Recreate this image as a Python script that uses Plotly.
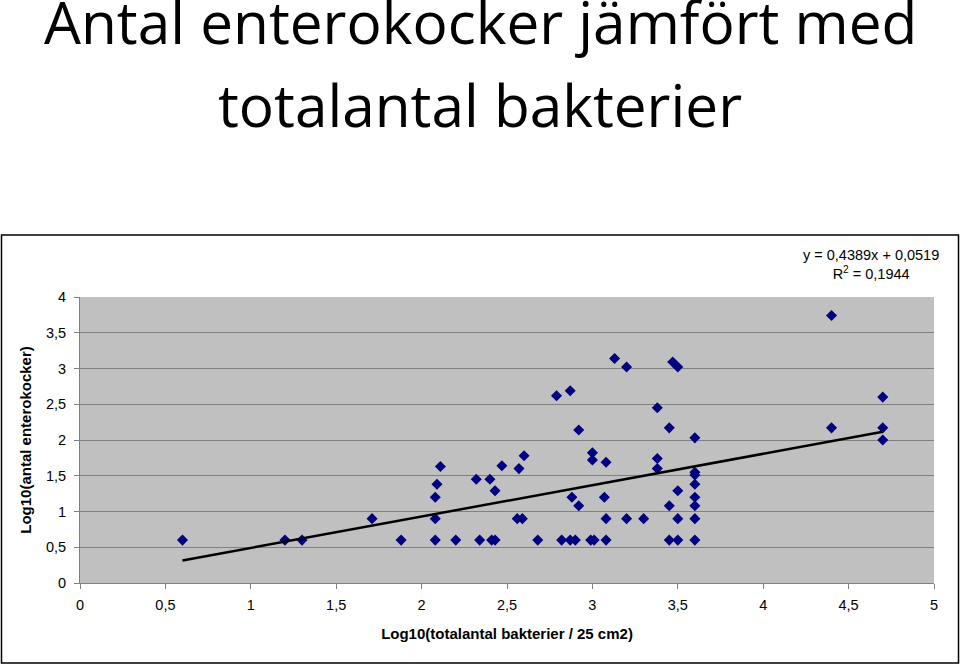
import plotly.graph_objects as go

# Data (log10 values)
x_total = [0.60, 1.20, 1.30, 1.71, 1.88, 2.08, 2.08, 2.08, 2.09, 2.11,
           2.20, 2.32, 2.34, 2.40, 2.41, 2.43, 2.43, 2.47, 2.56, 2.59,
           2.57, 2.60, 2.68, 2.79, 2.82, 2.87, 2.87, 2.90, 2.88, 2.92,
           2.92, 2.99, 3.01, 3.00, 3.00, 3.08, 3.08, 3.07, 3.08, 3.13,
           3.20, 3.20, 3.30, 3.38, 3.38, 3.38, 3.45, 3.45, 3.45, 3.47,
           3.50, 3.50, 3.50, 3.50, 3.60, 3.60, 3.60, 3.60, 3.60, 3.60,
           3.60, 3.60, 4.40, 4.40, 4.70, 4.70, 4.70]
y_entero = [0.60, 0.60, 0.60, 0.90, 0.60, 0.60, 0.90, 1.20, 1.38, 1.63,
            0.60, 1.45, 0.60, 1.45, 0.60, 0.60, 1.29, 1.64, 0.90, 0.90,
            1.60, 1.78, 0.60, 2.62, 0.60, 2.69, 0.60, 0.60, 1.20, 1.08,
            2.14, 0.60, 0.60, 1.82, 1.72, 0.60, 0.90, 1.20, 1.69, 3.14,
            3.02, 0.90, 0.90, 2.45, 1.74, 1.60, 0.60, 1.08, 2.17, 3.09,
            3.02, 1.29, 0.90, 0.60, 0.60, 0.90, 1.08, 1.20, 1.38, 1.51,
            1.55, 2.03, 3.74, 2.17, 2.60, 2.17, 2.00]

# Linear trendline as given in the chart
slope = 0.4389
intercept = 0.0519
r_squared = 0.1944

x_ticks = [0, 0.5, 1, 1.5, 2, 2.5, 3, 3.5, 4, 4.5, 5]
y_ticks = [0, 0.5, 1, 1.5, 2, 2.5, 3, 3.5, 4]

title_lines = ["Antal enterokocker jämfört med", "totalantal bakterier"]
x_title = "Log10(totalantal bakterier / 25 cm2)"
y_title = "Log10(antal enterokocker)"

def fmt(v):
    return f"{v:.4f}".replace(".", ",")

trend_x = [min(x_total), max(x_total)]
trend_y = [slope * v + intercept for v in trend_x]

fig = go.Figure()
fig.add_trace(go.Scatter(
    x=x_total, y=y_entero, mode="markers",
    marker=dict(symbol="diamond", size=8.5, color="#000080",
                line=dict(width=0)),
    showlegend=False, hoverinfo="x+y"))
fig.add_trace(go.Scatter(
    x=trend_x, y=trend_y, mode="lines",
    line=dict(color="black", width=2.5),
    showlegend=False, hoverinfo="skip"))

W, H = 960, 665
L, R, T, B = 80, 26, 297, 82
pw, ph = W - L - R, H - T - B

def px2paper_x(px):
    return (px - L) / pw

def px2paper_y(py):
    return (H - B - py) / ph

title_font = dict(family="Open Sans, sans-serif", size=58.5, color="black")
annotations = [
    dict(text=title_lines[0], x=px2paper_x(W / 2), y=px2paper_y(21),
         xref="paper", yref="paper", xanchor="center", yanchor="middle",
         showarrow=False, font=title_font),
    dict(text=title_lines[1], x=px2paper_x(W / 2), y=px2paper_y(104),
         xref="paper", yref="paper", xanchor="center", yanchor="middle",
         showarrow=False, font=title_font),
    dict(text=f"y = {fmt(slope)}x + {fmt(intercept)}<br>R<sup>2</sup> = {fmt(r_squared)}",
         x=px2paper_x(871), y=px2paper_y(264), xref="paper", yref="paper",
         xanchor="center", yanchor="middle", align="center", showarrow=False,
         font=dict(size=14.5)),
]

fig.update_layout(
    width=W, height=H,
    margin=dict(l=L, r=R, t=T, b=B, autoexpand=False),
    paper_bgcolor="white",
    plot_bgcolor="#C0C0C0",
    separators=", ",
    font=dict(family="Liberation Sans, Arial, sans-serif", size=14, color="black"),
    xaxis=dict(range=[0, 5], tickvals=x_ticks, showgrid=False, zeroline=False,
               showline=True, linecolor="#808080", linewidth=1,
               ticks="outside", ticklen=5, tickcolor="#808080",
               tickfont=dict(size=14.5), ticklabelstandoff=4,
               title=dict(text="<b>" + x_title + "</b>", font=dict(size=15), standoff=16)),
    yaxis=dict(range=[0, 4], tickvals=y_ticks, showgrid=True, gridcolor="#808080",
               gridwidth=1, zeroline=False,
               showline=True, linecolor="#808080", linewidth=1,
               ticks="outside", ticklen=5, tickcolor="#808080",
               tickfont=dict(size=14.5), ticklabelstandoff=5,
               title=dict(text="<b>" + y_title + "</b>", font=dict(size=15), standoff=10)),
    annotations=annotations,
    shapes=[dict(type="rect", xref="paper", yref="paper",
                 x0=px2paper_x(1.5), x1=px2paper_x(958.5),
                 y0=px2paper_y(663), y1=px2paper_y(235),
                 line=dict(color="black", width=1.5), fillcolor="rgba(0,0,0,0)",
                 layer="below")],
)

fig.write_html("out.html")
